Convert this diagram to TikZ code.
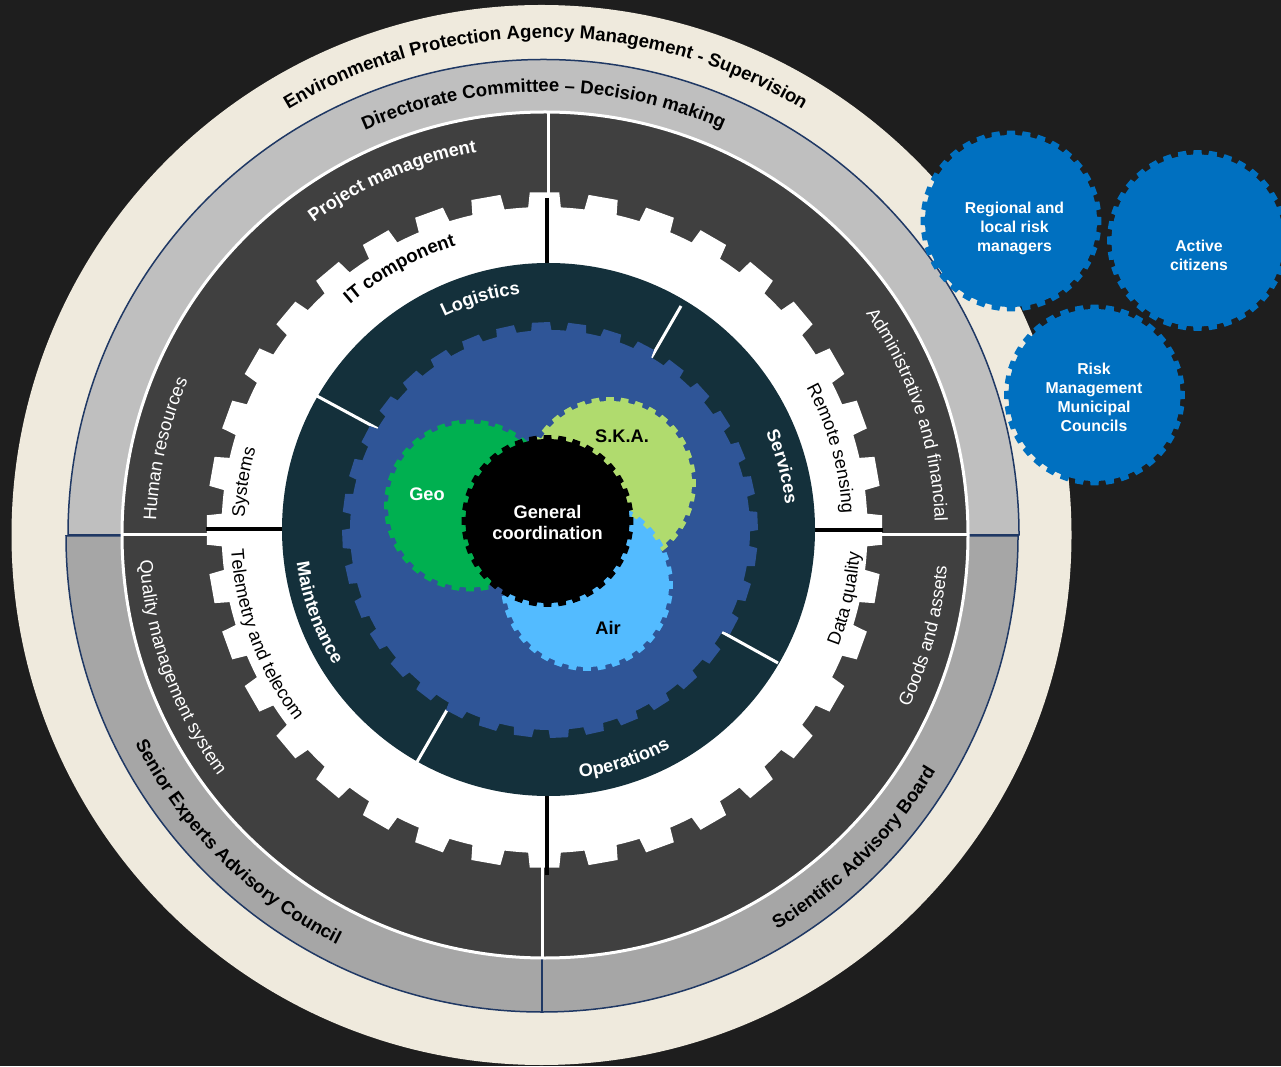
\documentclass[tikz,border=0pt]{standalone}
\usepackage{fontspec}
\setmainfont{Liberation Sans}
\usetikzlibrary{decorations.text}
\definecolor{bgdark}{HTML}{1E1E1E}
\definecolor{beige}{HTML}{EFEADD}
\definecolor{navy}{HTML}{1F3864}
\definecolor{ringup}{HTML}{BFBFBF}
\definecolor{ringlo}{HTML}{A6A6A6}
\definecolor{sector}{HTML}{404040}
\definecolor{teal}{HTML}{14303B}
\definecolor{gearblue}{HTML}{2F5597}
\definecolor{geogreen}{HTML}{00B050}
\definecolor{skagreen}{HTML}{B0DB6E}
\definecolor{airblue}{HTML}{53BBFF}
\definecolor{outerblue}{HTML}{0070C0}
\newcommand{\gearshape}[6]{% cx cy r0 r1 colour phase
  \begin{scope}[shift={(#1,#2)}]
    \fill[#5] (0,0) circle[radius=#3pt];
    \pgfmathsetmacro\rin{#3-1}
    \foreach \k in {0,...,35}{
      \pgfmathsetmacro\aa{#6+10*\k}
      \fill[#5] ({\aa-3.0}:\rin pt) -- ({\aa-2.9}:#3pt) -- ({\aa-2.5}:#4pt) -- ({\aa+2.5}:#4pt) -- ({\aa+2.9}:#3pt) -- ({\aa+3.0}:\rin pt) -- cycle;
    }
  \end{scope}}
\newcommand{\cwtext}[6]{% cx cy r mid font text (clockwise, letters point outward)
  \pgfmathsetmacro\sa{#4+60}\pgfmathsetmacro\ea{#4-60}
  \path[decorate,decoration={text along path,text align=center,text={|#5|#6}}]
    (#1,#2) ++(\sa:#3pt) arc[start angle=\sa,end angle=\ea,radius=#3pt];}
\newcommand{\ccwtext}[6]{% cx cy r mid font text (counter-clockwise, letters point inward)
  \pgfmathsetmacro\sa{#4-60}\pgfmathsetmacro\ea{#4+60}
  \path[decorate,decoration={text along path,text align=center,text={|#5|#6}}]
    (#1,#2) ++(\sa:#3pt) arc[start angle=\sa,end angle=\ea,radius=#3pt];}
\newcommand{\Bk}{\fontsize{18.6}{20}\selectfont\bfseries\color{black}}
\newcommand{\Wb}{\fontsize{18.2}{20}\selectfont\bfseries\color{white}}
\newcommand{\Wr}{\fontsize{18.3}{20}\selectfont\color{white}}
\newcommand{\Kr}{\fontsize{18.3}{20}\selectfont\color{black}}
\tikzset{
  x=1pt,y=1pt,
  navyline/.style={draw=navy,line width=1.5pt},
  whiteline/.style={draw=white,line width=3pt},
  blackline/.style={draw=black,line width=4pt},
  blob/.style={align=center,font=\fontsize{15.8}{19}\selectfont\bfseries,text=white,inner sep=0pt},
  corelabel/.style={align=center,font=\fontsize{18.2}{21}\selectfont\bfseries,inner sep=0pt}
}
\begin{document}
\begin{tikzpicture}
\useasboundingbox (0,0) rectangle (1281,1066);
\clip (0,0) rectangle (1281,1066);
\fill[bgdark] (0,0) rectangle (1281,1066);
% outer rings
\fill[beige] (541.5,531) circle[radius=530pt];
\filldraw[fill=ringup,navyline] (68,531) arc[start angle=180,end angle=0,radius=475.5pt] -- cycle;
\filldraw[fill=ringlo,navyline] (66,530) arc[start angle=180,end angle=360,radius=476pt] -- cycle;
\draw[navyline] (542,54) -- (542,107);
% inner disc
\filldraw[fill=sector,draw=white,line width=3pt] (545,531) circle[radius=423pt];
\draw[whiteline] (122,531) -- (215,531);
\draw[whiteline] (875,531) -- (968,531);
\draw[whiteline] (548,955) -- (548,860);
\draw[whiteline] (542,108) -- (542,210);
% white gear
\gearshape{544.5}{536}{323}{338}{white}{0}
\draw[blackline] (206,537) -- (290,537);
\draw[blackline] (883,535.5) -- (810,535.5);
\draw[blackline] (547,868) -- (547,800);
\draw[blackline] (547,191) -- (547,270);
% teal disc
\fill[teal] (548.5,536.5) circle[radius=266.5pt];
\draw[whiteline] (317,670) -- (378,637);
\draw[whiteline] (681,760) -- (651,708);
\draw[whiteline] (778,403) -- (722,434);
\draw[whiteline] (447,356) -- (417,304);
% blue gear
\gearshape{550}{536}{200}{208}{gearblue}{2.5}
% core gears
\gearshape{610}{583}{82}{86}{skagreen}{0}
\gearshape{587}{481}{82}{86}{airblue}{0}
\gearshape{470}{560.5}{82}{86}{geogreen}{0}
\gearshape{547.5}{545}{82}{86}{black}{0}
% outer gears
\gearshape{1011}{845}{86}{90.5}{outerblue}{0}
\gearshape{1197.5}{825.5}{86}{90.5}{outerblue}{0}
\gearshape{1094.5}{671}{86}{90.5}{outerblue}{0}
% straight labels
\node[corelabel,text=white] (coord) at (547.5,544) {General\\coordination};
\node[corelabel,text=white] (geo) at (427,572) {Geo};
\node[corelabel,text=black] (ska) at (622,630) {S.K.A.};
\node[corelabel,text=black] (air) at (608,438) {Air};
\node[blob] (regional) at (1014.5,838) {Regional and\\local risk\\managers};
\node[blob] (active) at (1199,810.5) {Active\\citizens};
\node[blob] (risk) at (1094,669) {Risk\\Management\\Municipal\\Councils};
% curved labels
\cwtext{545.5}{531}{497}{90}{\Bk}{Environmental Protection Agency Management - Supervision}
\cwtext{545}{531}{443}{90.2}{\Bk}{Directorate Committee – Decision making}
\ccwtext{542}{530}{458.5}{315}{\Bk}{Scientific Advisory Board}
\ccwtext{542}{530}{457}{225.2}{\Bk}{Senior Experts Advisory Council}
\cwtext{545}{531}{389}{113.3}{\Wb}{Project management}
\cwtext{545}{531}{389}{167.25}{\Wr}{Human resources}
\cwtext{545}{531}{390}{18.3}{\Wr}{Administrative and financial}
\ccwtext{545}{531}{403}{345.1}{\Wr}{Goods and assets}
\ccwtext{545}{531}{406}{200}{\Wr}{Quality management system}
\cwtext{544.5}{536}{298}{119}{\Bk}{IT component}
\cwtext{544.5}{536}{300}{171}{\Kr}{Systems}
\cwtext{544.5}{536}{298}{15.8}{\Kr}{Remote sensing}
\ccwtext{544.5}{536}{316}{347.2}{\Kr}{Data quality}
\ccwtext{544.5}{536}{314}{200.5}{\Kr}{Telemetry and telecom}
\cwtext{548.5}{536.5}{237}{106.5}{\Wb}{Logistics}
\cwtext{548.5}{536.5}{238}{15}{\Wb}{Services}
\ccwtext{548.5}{536.5}{250}{288.2}{\Wb}{Operations}
\ccwtext{548.5}{536.5}{254}{199.9}{\Wb}{Maintenance}
\end{tikzpicture}
\end{document}
